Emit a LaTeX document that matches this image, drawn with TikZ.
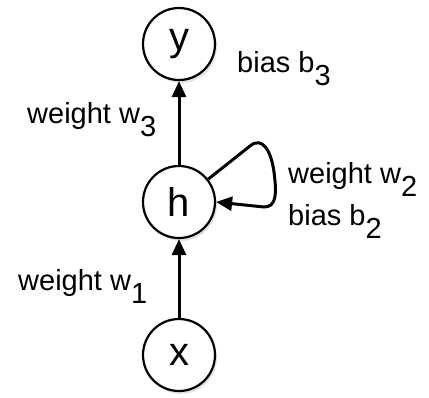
\documentclass[tikz,border=0pt]{standalone}
\usepackage{fontspec}
\setmainfont{Liberation Sans}
\usetikzlibrary{arrows.meta,shadows}
\newcommand\sbx[1]{\raisebox{-13pt}{#1}}
\begin{document}
\begin{tikzpicture}[x=1pt,y=-1pt,
  neuron/.style={circle,draw,line width=2.2pt,minimum size=72pt,inner sep=0pt,fill=white,
    font=\fontsize{40}{40}\selectfont,
    drop shadow={opacity=0.22,shadow xshift=2pt,shadow yshift=-3pt}},
  conn/.style={line width=3pt,-{Triangle[length=16pt,width=14pt]}},
  lbl/.style={font=\fontsize{29}{30}\selectfont,inner sep=0pt,anchor=base west}]
\useasboundingbox (0,0) rectangle (429,397);
\node[neuron] (y) at (179,44) {y};
\node[neuron] (h) at (179,202) {h};
\node[neuron] (x) at (179,355) {x};
\draw[conn] (x) -- (h);
\draw[conn] (h) -- (y);
\draw[conn] (h.38) -- (250,146) .. controls (262,136) and (271,150) .. (274,172)
  .. controls (277,195) and (276,207) .. (264,207) -- (h.east);
\node[lbl] (b3) at (237,72) {bias b\sbx{3}};
\node[lbl] (w3) at (27,123) {weight w\sbx{3}};
\node[lbl] (w1) at (18,290) {weight w\sbx{1}};
\node[lbl] (w2) at (288,183) {weight w\sbx{2}};
\node[lbl] (b2) at (288,225) {bias b\sbx{2}};
\end{tikzpicture}
\end{document}
